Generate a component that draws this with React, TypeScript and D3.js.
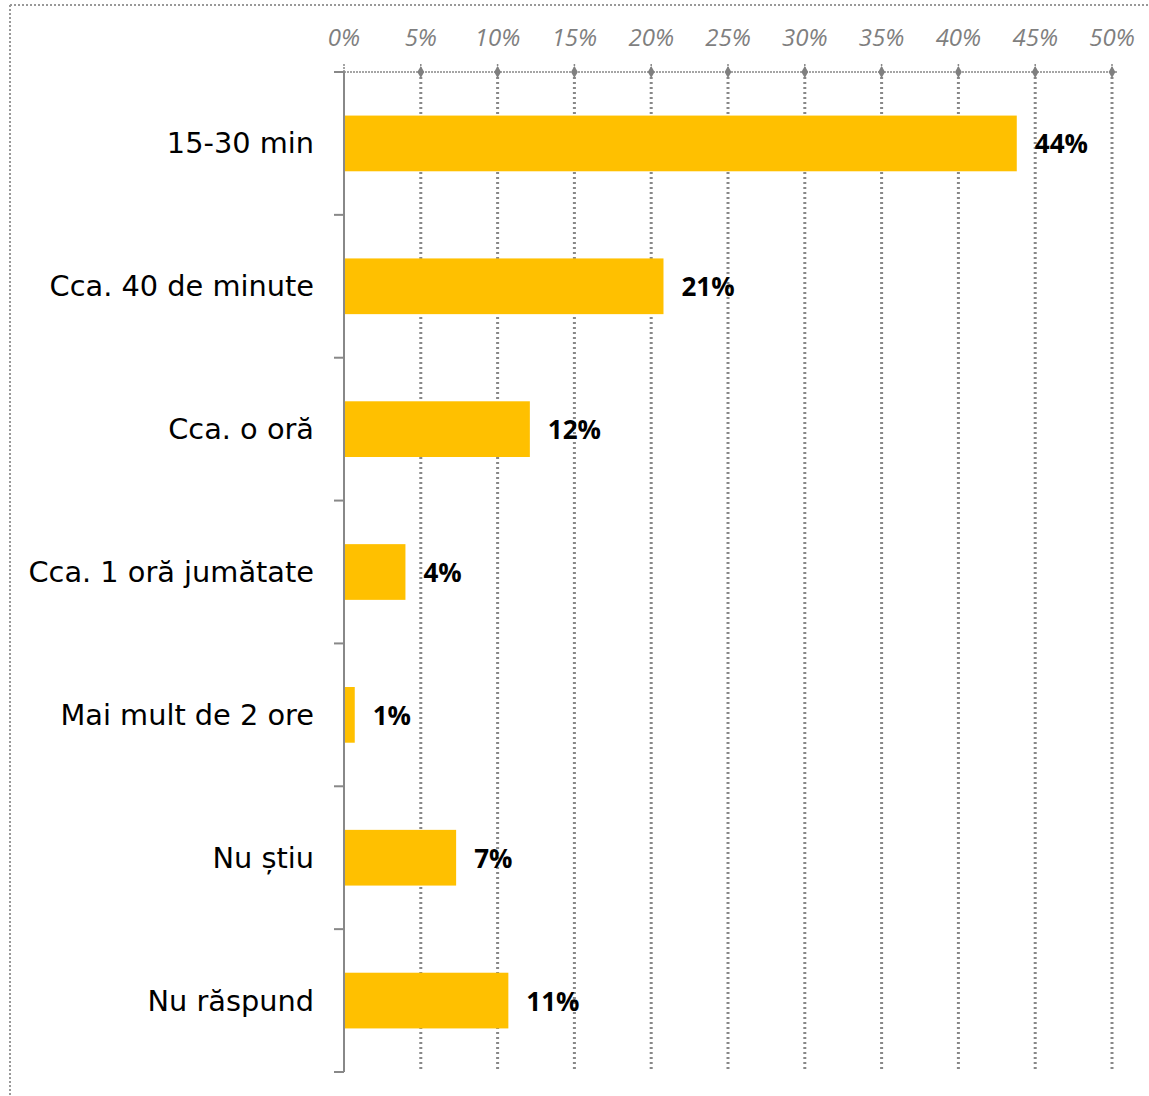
import { useEffect, useRef } from 'react';
import * as d3 from 'd3';

const categories = [
  '15-30 min',
  'Cca. 40 de minute',
  'Cca. o oră',
  'Cca. 1 oră jumătate',
  'Mai mult de 2 ore',
  'Nu știu',
  'Nu răspund',
];
const values = [43.8, 20.8, 12.1, 4.0, 0.7, 7.3, 10.7];
const valueLabels = ['44%', '21%', '12%', '4%', '1%', '7%', '11%'];
const xTicks = [0, 5, 10, 15, 20, 25, 30, 35, 40, 45, 50];

export default function App() {
  const svgRef = useRef<SVGSVGElement>(null);

  useEffect(() => {
    if (!svgRef.current) return;
    const svg = d3.select(svgRef.current);
    svg.selectAll('*').remove();

    const width = 1149;
    const height = 1096;
    const margin = { top: 72, right: 37, bottom: 24, left: 344 };
    const grey = '#888';

    // outer dotted frame (top + left)
    svg.append('line')
      .attr('x1', 10).attr('x2', width).attr('y1', 5).attr('y2', 5)
      .attr('stroke', '#999').attr('stroke-width', 2).attr('stroke-dasharray', '2,2');
    svg.append('line')
      .attr('x1', 10).attr('x2', 10).attr('y1', 5).attr('y2', height)
      .attr('stroke', '#999').attr('stroke-width', 2).attr('stroke-dasharray', '2,2');

    const x = d3.scaleLinear().domain([0, 50]).range([margin.left, width - margin.right]);
    const y = d3.scaleBand().domain(categories).range([margin.top, height - margin.bottom]).paddingInner(0.61).paddingOuter(0.305);
    const step = y.step();

    // vertical dotted gridlines
    svg.append('g').selectAll('line')
      .data(xTicks.filter(t => t > 0))
      .enter().append('line')
      .attr('x1', d => x(d)).attr('x2', d => x(d))
      .attr('y1', margin.top).attr('y2', height - margin.bottom)
      .attr('stroke', grey).attr('stroke-width', 3).attr('stroke-dasharray', '2,3');

    // top axis dotted line
    svg.append('line')
      .attr('x1', x(0)).attr('x2', x(50) + 6)
      .attr('y1', margin.top).attr('y2', margin.top)
      .attr('stroke', grey).attr('stroke-width', 1.5).attr('stroke-dasharray', '2,1');

    // small tick marks above axis
    svg.append('g').selectAll('line')
      .data(xTicks)
      .enter().append('line')
      .attr('x1', d => x(d)).attr('x2', d => x(d))
      .attr('y1', margin.top - 8).attr('y2', margin.top)
      .attr('stroke', grey).attr('stroke-width', 1.5).attr('stroke-dasharray', '2,1');

    // diamonds
    svg.append('g').selectAll('path')
      .data(xTicks.filter(t => t > 0))
      .enter().append('path')
      .attr('d', d3.symbol(d3.symbolDiamond, 40)())
      .attr('transform', d => `translate(${x(d)},${margin.top})`)
      .attr('fill', '#7f7f7f');

    // tick labels
    svg.append('g').selectAll('text')
      .data(xTicks)
      .enter().append('text')
      .attr('x', d => x(d))
      .attr('y', 46)
      .attr('text-anchor', 'middle')
      .attr('font-family', 'Open Sans, sans-serif')
      .attr('font-style', 'italic')
      .attr('font-size', '24px')
      .attr('fill', '#7f7f7f')
      .text(d => `${d}%`);

    // bars
    svg.append('g').selectAll('rect')
      .data(categories)
      .enter().append('rect')
      .attr('x', x(0) + 1)
      .attr('y', d => y(d)!)
      .attr('width', (d, i) => x(values[i]) - x(0) - 1)
      .attr('height', y.bandwidth())
      .attr('fill', '#FFC000');

    // value labels
    svg.append('g').selectAll('text')
      .data(categories)
      .enter().append('text')
      .attr('x', (d, i) => x(values[i]) + 18)
      .attr('y', d => y(d)! + y.bandwidth() / 2 + 10)
      .attr('font-family', 'Open Sans, sans-serif')
      .attr('font-weight', 'bold')
      .attr('font-size', '26px')
      .attr('fill', '#000')
      .text((d, i) => valueLabels[i]);

    // category labels
    svg.append('g').selectAll('text')
      .data(categories)
      .enter().append('text')
      .attr('x', margin.left - 30)
      .attr('y', d => y(d)! + y.bandwidth() / 2 + 10)
      .attr('text-anchor', 'end')
      .attr('font-family', 'DejaVu Sans, sans-serif')
      .attr('font-size', '28.8px')
      .attr('fill', '#000')
      .text(d => d);

    // left axis line + category ticks
    svg.append('line')
      .attr('x1', x(0)).attr('x2', x(0))
      .attr('y1', margin.top).attr('y2', height - margin.bottom)
      .attr('stroke', grey).attr('stroke-width', 2);
    svg.append('g').selectAll('line')
      .data(d3.range(categories.length + 1))
      .enter().append('line')
      .attr('x1', x(0) - 10).attr('x2', x(0))
      .attr('y1', i => margin.top + i * step).attr('y2', i => margin.top + i * step)
      .attr('stroke', grey).attr('stroke-width', 2);
  }, []);

  return (
    <svg ref={svgRef} width={1149} height={1096} style={{ display: 'block', position: 'absolute', left: 0, top: 0 }} />
  );
}
